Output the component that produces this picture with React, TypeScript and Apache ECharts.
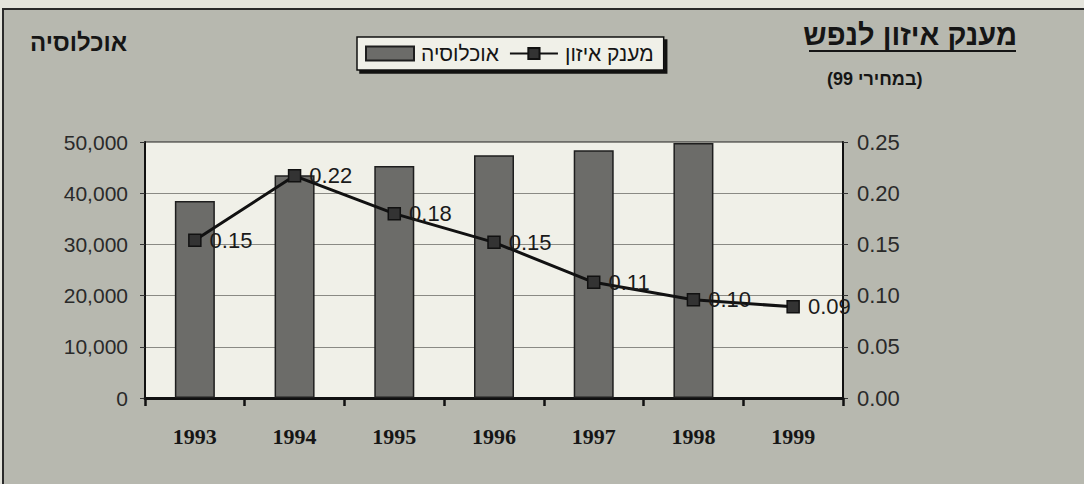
import React, { useEffect, useRef } from "react";
import * as echarts from "echarts";

const years = ["1993", "1994", "1995", "1996", "1997", "1998", "1999"];
const population: (number | null)[] = [38500, 43500, 45300, 47400, 48400, 49800, null];
const grant: number[] = [0.154, 0.217, 0.18, 0.152, 0.113, 0.096, 0.089];
const grantLabels = ["0.15", "0.22", "0.18", "0.15", "0.11", "0.10", "0.09"];
const leftTicks = ["0", "10,000", "20,000", "30,000", "40,000", "50,000"];
const rightTicks = ["0.00", "0.05", "0.10", "0.15", "0.20", "0.25"];

const SANS = "'Liberation Sans', Arial, 'DejaVu Sans', sans-serif";
const SERIF = "'Liberation Serif', 'Times New Roman', 'DejaVu Serif', serif";

export default function App() {
  const ref = useRef<HTMLDivElement>(null);
  useEffect(() => {
    document.body.style.margin = "0";
    const chart = echarts.init(ref.current!, null, { renderer: "svg" });
    chart.setOption({
      animation: false,
      backgroundColor: "#e4e4dc",
      graphic: [
        {
          type: "rect",
          shape: { x: 3, y: 9, width: 1100, height: 500 },
          style: { fill: "#b7b8af", stroke: "#2a2a2a", lineWidth: 2 },
          z: -10,
        },
        {
          type: "text",
          right: 1084 - 1017,
          top: 20,
          style: {
            text: "מענק איזון לנפש",
            font: `bold 29px ${SANS}`,
            fill: "#151515",
          },
        },
        {
          type: "line",
          shape: { x1: 809, y1: 51, x2: 1016, y2: 51 },
          style: { stroke: "#151515", lineWidth: 2 },
        },
        {
          type: "text",
          left: 827,
          top: 70,
          style: {
            text: "(במחירי 99)",
            font: `bold 18px ${SANS}`,
            fill: "#151515",
          },
        },
        {
          type: "text",
          left: 30,
          top: 30,
          style: {
            text: "אוכלוסיה",
            font: `bold 24px ${SANS}`,
            fill: "#151515",
          },
        },
      ],
      legend: {
        left: 357,
        top: 37,
        padding: [6, 10, 6, 8],
        itemGap: 10,
        itemWidth: 48,
        itemHeight: 14,
        backgroundColor: "#f0f0e8",
        borderColor: "#111",
        borderWidth: 1.5,
        shadowColor: "rgba(0,0,0,0.9)",
        shadowOffsetX: 3,
        shadowOffsetY: 3,
        shadowBlur: 0,
        textStyle: { fontFamily: SANS, fontSize: 21, color: "#151515", padding: [0, 0, 0, 2] },
        data: [{ name: "אוכלוסיה", icon: "rect" }, { name: "מענק איזון" }],
      },
      grid: { left: 145, right: 241, top: 142, bottom: 86, show: true, backgroundColor: "#f0f0e8", borderColor: "#222", borderWidth: 1 },
      xAxis: {
        type: "category",
        data: years,
        axisLine: { lineStyle: { color: "#111", width: 3 } },
        axisTick: { show: true, length: 8, lineStyle: { color: "#111", width: 2.5 } },
        axisLabel: { fontFamily: SERIF, fontWeight: "bold", fontSize: 22, color: "#151515", margin: 27 },
      },
      yAxis: [
        {
          type: "value",
          min: 0,
          max: 50000,
          interval: 10000,
          position: "left",
          axisLine: { show: true, lineStyle: { color: "#111", width: 2 } },
          axisTick: { show: true, length: 5, lineStyle: { color: "#333" } },
          splitLine: { lineStyle: { color: "#8a8a84", width: 1 } },
          axisLabel: {
            fontFamily: SANS,
            fontSize: 21,
            color: "#2a2a2a",
            margin: 17,
            formatter: (v: number) => leftTicks[Math.round(v / 10000)],
          },
        },
        {
          type: "value",
          min: 0,
          max: 0.25,
          interval: 0.05,
          position: "right",
          axisLine: { show: true, lineStyle: { color: "#111", width: 2 } },
          axisTick: { show: true, length: 5, lineStyle: { color: "#333" } },
          splitLine: { show: false },
          axisLabel: {
            fontFamily: SANS,
            fontSize: 22,
            color: "#2a2a2a",
            margin: 14,
            formatter: (v: number) => rightTicks[Math.round(v / 0.05)],
          },
        },
      ],
      series: [
        {
          name: "אוכלוסיה",
          type: "bar",
          yAxisIndex: 0,
          data: population,
          barWidth: 40,
          itemStyle: { color: "#6c6c69", borderColor: "#1e1e1e", borderWidth: 1.5 },
        },
        {
          name: "מענק איזון",
          type: "line",
          yAxisIndex: 1,
          data: grant,
          symbol: "rect",
          symbolSize: 12,
          lineStyle: { color: "#111", width: 3 },
          itemStyle: { color: "#333", borderColor: "#111", borderWidth: 1.5 },
          label: {
            show: true,
            position: "right",
            distance: 8,
            fontFamily: SANS,
            fontSize: 22,
            color: "#1a1a1a",
            formatter: (p: any) => grantLabels[p.dataIndex],
          },
          z: 5,
        },
      ],
    });
    return () => chart.dispose();
  }, []);
  return <div ref={ref} style={{ width: 1084, height: 484 }} />;
}
